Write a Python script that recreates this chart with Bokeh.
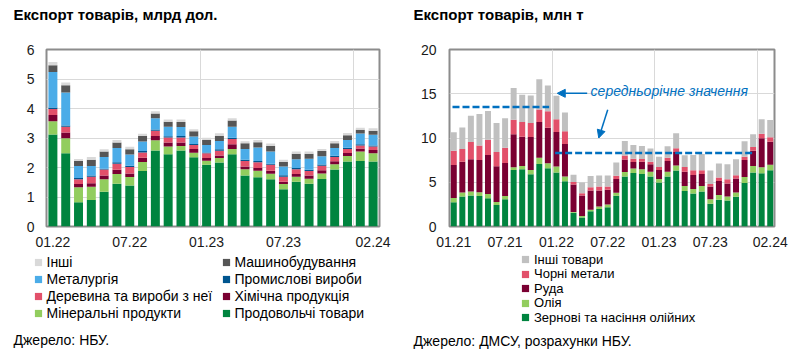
import numpy as np
from bokeh.plotting import figure
from bokeh.layouts import row, column
from bokeh.models import (ColumnDataSource, FixedTicker, Legend, LegendItem, Label,
                          Arrow, NormalHead, Range1d)
from bokeh.embed import file_html
from bokeh.resources import INLINE

FONT = "Liberation Sans"
TXT = "#1a1a1a"
GRID = "#D9D9D9"
FRAME = "#8c8c8c"
BLUE = "#0070C0"

# ---------------- Left chart: export of goods, bn USD ----------------
usd_months = ["01.22", "02.22", "03.22", "04.22", "05.22", "06.22", "07.22", "08.22",
              "09.22", "10.22", "11.22", "12.22", "01.23", "02.23", "03.23", "04.23",
              "05.23", "06.23", "07.23", "08.23", "09.23", "10.23", "11.23", "12.23",
              "01.24", "02.24"]
usd_tick_labels = ["01.22", "07.22", "01.23", "07.23", "02.24"]

food = [3.12, 2.48, 0.82, 0.90, 1.18, 1.45, 1.39, 1.88, 2.58, 2.45, 2.58, 2.35, 2.09,
        2.17, 2.45, 1.73, 1.67, 1.60, 1.26, 1.52, 1.45, 1.61, 1.93, 2.20, 2.22, 2.20]
mineral = [0.45, 0.51, 0.51, 0.45, 0.42, 0.33, 0.29, 0.31, 0.34, 0.26, 0.15, 0.15, 0.14,
           0.15, 0.18, 0.21, 0.22, 0.19, 0.18, 0.17, 0.17, 0.19, 0.18, 0.19, 0.32, 0.28]
chemical = [0.21, 0.20, 0.11, 0.12, 0.13, 0.14, 0.12, 0.14, 0.15, 0.14, 0.12, 0.13, 0.09,
            0.09, 0.16, 0.09, 0.09, 0.10, 0.08, 0.09, 0.11, 0.11, 0.10, 0.10, 0.10, 0.11]
wood = [0.20, 0.19, 0.16, 0.22, 0.20, 0.21, 0.22, 0.18, 0.18, 0.17, 0.17, 0.13, 0.16,
        0.16, 0.18, 0.19, 0.20, 0.20, 0.17, 0.16, 0.15, 0.15, 0.15, 0.14, 0.11, 0.12]
industrial = [0.05, 0.04, 0.04, 0.04, 0.03, 0.05, 0.04, 0.05, 0.04, 0.04, 0.05, 0.04, 0.03,
              0.05, 0.04, 0.04, 0.04, 0.04, 0.05, 0.04, 0.04, 0.04, 0.04, 0.04, 0.04, 0.04]
metallurgy = [1.21, 1.12, 0.41, 0.32, 0.40, 0.48, 0.38, 0.32, 0.38, 0.32, 0.30, 0.25, 0.25,
              0.28, 0.37, 0.37, 0.46, 0.41, 0.29, 0.30, 0.38, 0.28, 0.26, 0.26, 0.36, 0.36]
machinery = [0.23, 0.25, 0.17, 0.21, 0.18, 0.19, 0.18, 0.19, 0.16, 0.17, 0.17, 0.18, 0.17,
             0.18, 0.21, 0.19, 0.18, 0.19, 0.16, 0.19, 0.17, 0.18, 0.16, 0.16, 0.13, 0.14]
other_usd = [0.11, 0.09, 0.07, 0.10, 0.08, 0.08, 0.08, 0.07, 0.08, 0.08, 0.09, 0.07, 0.08,
             0.08, 0.08, 0.07, 0.07, 0.08, 0.07, 0.07, 0.07, 0.07, 0.08, 0.08, 0.07, 0.08]

usd_names = ["Продовольчі товари", "Мінеральні продукти", "Хімічна продукція",
             "Деревина та вироби з неї", "Промислові вироби", "Металургія",
             "Машинобудування", "Інші"]
usd_colors = ["#00843F", "#92CD5E", "#7A0032", "#E2506A", "#00558F", "#4BACE8",
              "#565656", "#D9D9D9"]

# ---------------- Right chart: export of goods, mn t ----------------
t_months = ["01.21", "02.21", "03.21", "04.21", "05.21", "06.21", "07.21", "08.21",
            "09.21", "10.21", "11.21", "12.21", "01.22", "02.22", "03.22", "04.22",
            "05.22", "06.22", "07.22", "08.22", "09.22", "10.22", "11.22", "12.22",
            "01.23", "02.23", "03.23", "04.23", "05.23", "06.23", "07.23", "08.23",
            "09.23", "10.23", "11.23", "12.23", "01.24", "02.24"]
t_tick_labels = ["01.21", "07.21", "01.22", "07.22", "01.23", "07.23", "02.24"]

grain = [2.74, 3.38, 3.50, 3.46, 3.20, 2.44, 3.08, 6.39, 6.47, 5.90, 7.07, 6.58, 6.09,
         5.11, 1.54, 1.02, 1.73, 1.99, 2.18, 3.48, 5.64, 6.05, 5.94, 5.64, 4.96, 5.64,
         6.32, 4.02, 3.72, 3.95, 2.56, 3.01, 2.93, 3.35, 4.92, 6.09, 6.02, 6.35]
oil = [0.49, 0.45, 0.45, 0.41, 0.48, 0.34, 0.38, 0.30, 0.37, 0.49, 0.71, 0.56, 0.68,
       0.53, 0.11, 0.18, 0.15, 0.27, 0.30, 0.34, 0.53, 0.50, 0.53, 0.56, 0.42, 0.56,
       0.56, 0.57, 0.53, 0.64, 0.52, 0.56, 0.45, 0.48, 0.68, 0.75, 0.67, 0.64]
ore = [3.72, 3.50, 3.64, 3.65, 4.40, 4.02, 3.72, 3.72, 3.31, 3.72, 4.02, 4.03, 3.91,
       3.68, 3.09, 2.30, 2.18, 1.80, 1.66, 1.54, 1.39, 0.75, 0.86, 0.83, 1.01, 1.21,
       1.54, 1.61, 1.58, 1.35, 1.43, 1.58, 1.47, 1.58, 1.92, 1.73, 3.27, 2.60]
ferrous = [1.62, 1.43, 1.96, 1.62, 1.73, 1.62, 1.73, 1.66, 1.65, 1.58, 1.43, 1.84, 1.43,
           1.43, 0.30, 0.26, 0.38, 0.45, 0.37, 0.38, 0.47, 0.35, 0.30, 0.30, 0.34, 0.37,
           0.41, 0.53, 0.52, 0.41, 0.30, 0.38, 0.49, 0.38, 0.37, 0.41, 0.53, 0.49]
other_t = [2.07, 2.44, 2.97, 3.57, 3.24, 3.27, 3.31, 3.57, 3.09, 3.12, 3.42, 2.93, 2.66,
           2.14, 0.82, 1.20, 1.27, 1.24, 1.24, 1.50, 1.62, 1.55, 1.47, 1.47, 1.16, 1.28,
           1.70, 1.32, 1.73, 1.85, 1.51, 1.58, 1.69, 1.80, 1.73, 1.43, 1.62, 1.95]

t_names = ["Зернові та насіння олійних", "Олія", "Руда", "Чорні метали", "Інші товари"]
t_colors = ["#00843F", "#92CD5E", "#7A0032", "#E2506A", "#C0C0C0"]

# periods over which the annual average is shown
avg_periods = [("01.21", "12.21"), ("01.22", "12.23")]
avg_note = "середньорічне значення"

HEAD_H = 30
CHART_H = 222
FOOT_H = 363 - HEAD_H - CHART_H
GLYPH = 18


def blank_figure(height):
    f = figure(width=400, height=height, x_range=Range1d(0, 400), y_range=Range1d(0, height),
               output_backend="svg", toolbar_location=None, min_border=0,
               x_axis_type=None, y_axis_type=None)
    f.outline_line_color = None
    f.grid.visible = False
    return f


def head_figure(title):
    h = blank_figure(HEAD_H)
    h.add_layout(Label(x=13, y=HEAD_H - 14, x_units="screen", y_units="screen", text=title,
                       text_font=FONT, text_font_size="15px", text_font_style="bold",
                       text_color="#000000", text_baseline="middle"))
    return h


def base_figure(n, ymax, step, border_left, border_right):
    p = figure(width=400, height=CHART_H, x_range=Range1d(-0.5, n - 0.5),
               y_range=Range1d(0, ymax), output_backend="svg", toolbar_location=None,
               min_border_left=border_left, min_border_right=border_right,
               min_border_top=19, min_border_bottom=CHART_H - 19 - 177)
    p.outline_line_color = FRAME
    p.outline_line_width = 2
    p.background_fill_color = "white"
    p.border_fill_color = "white"
    p.yaxis.ticker = FixedTicker(ticks=list(np.arange(0, ymax + step / 2, step)))
    for ax in (p.xaxis[0], p.yaxis[0]):
        ax.axis_line_color = None
        ax.major_tick_line_color = None
        ax.minor_tick_line_color = None
        ax.major_tick_out = 0
        ax.major_tick_in = 0
        ax.major_label_text_font = FONT
        ax.major_label_text_font_size = "14px"
        ax.major_label_text_color = TXT
    p.xaxis.major_label_standoff = 10
    p.ygrid.grid_line_color = GRID
    p.xgrid.grid_line_color = GRID
    return p


def foot_figure(names, colors, entries, font_size, source, dy_source):
    """Legend and source note under a chart; swatches come from size-0 proxy markers."""
    f = blank_figure(FOOT_H)
    proxies = {n: f.scatter(x=[0], y=[0], marker="square", size=0, fill_color=c,
                            line_color=None)
               for n, c in zip(names, colors)}
    for name, (lx, cy) in entries:
        lg = Legend(items=[LegendItem(label=name, renderers=[proxies[name]])],
                    location=(lx, FOOT_H - cy - GLYPH / 2))
        lg.label_text_font = FONT
        lg.label_text_font_size = font_size
        lg.label_text_color = "#000000"
        lg.glyph_width = GLYPH
        lg.glyph_height = GLYPH
        lg.label_height = GLYPH
        lg.label_standoff = -2
        lg.padding = 0
        lg.margin = 0
        lg.border_line_color = None
        lg.background_fill_alpha = 0
        f.add_layout(lg)
    f.add_layout(Label(x=13, y=FOOT_H - dy_source, x_units="screen", y_units="screen",
                       text=source, text_font=FONT, text_font_size="14px",
                       text_color="#000000", text_baseline="middle"))
    return f


# ---- left
xu = list(range(len(usd_months)))
src_u = ColumnDataSource(dict(x=xu, food=food, mineral=mineral, chemical=chemical, wood=wood,
                              industrial=industrial, metallurgy=metallurgy,
                              machinery=machinery, other=other_usd))
keys_u = ["food", "mineral", "chemical", "wood", "industrial", "metallurgy", "machinery",
          "other"]
p1 = base_figure(len(usd_months), 6, 1, 46, 21)
p1.yaxis.major_label_standoff = 12
p1.vbar_stack(keys_u, x="x", width=0.7, color=usd_colors, line_color=None, source=src_u)
p1.xaxis.ticker = FixedTicker(ticks=[usd_months.index(t) for t in usd_tick_labels])
p1.xaxis.major_label_overrides = {usd_months.index(t): t for t in usd_tick_labels}
p1.xgrid.ticker = FixedTicker(ticks=[i - 0.5 for i, m in enumerate(usd_months)
                                     if m.startswith("01.") and i > 0])
col1 = ["Інші", "Металургія", "Деревина та вироби з неї", "Мінеральні продукти"]
col2 = ["Машинобудування", "Промислові вироби", "Хімічна продукція", "Продовольчі товари"]
entries_u = ([(n, (28.5, 10 + 17 * i)) for i, n in enumerate(col1)] +
             [(n, (216.5, 10 + 17 * i)) for i, n in enumerate(col2)])
f1 = foot_figure(usd_names, usd_colors, entries_u, "14px", "Джерело: НБУ.", 87)

# ---- right
xt = list(range(len(t_months)))
src_t = ColumnDataSource(dict(x=xt, grain=grain, oil=oil, ore=ore, ferrous=ferrous,
                              other=other_t))
keys_t = ["grain", "oil", "ore", "ferrous", "other"]
p2 = base_figure(len(t_months), 20, 5, 49, 26)
p2.yaxis.major_label_standoff = 13
p2.vbar_stack(keys_t, x="x", width=0.7, color=t_colors, line_color=None, source=src_t)
p2.xaxis.ticker = FixedTicker(ticks=[t_months.index(t) for t in t_tick_labels])
p2.xaxis.major_label_overrides = {t_months.index(t): t for t in t_tick_labels}
p2.xgrid.ticker = FixedTicker(ticks=[i - 0.5 for i, m in enumerate(t_months)
                                     if m.startswith("01.") and i > 0])

totals = np.array(grain) + np.array(oil) + np.array(ore) + np.array(ferrous) + np.array(other_t)
x0s, x1s, avgs = [], [], []
for a, b in avg_periods:
    i0, i1 = t_months.index(a), t_months.index(b)
    x0s.append(i0 - 0.15)
    x1s.append(i1 + 0.15)
    avgs.append(float(totals[i0:i1 + 1].mean()))
p2.segment(x0=x0s, y0=avgs, x1=x1s, y1=avgs, line_color=BLUE, line_width=2.5,
           line_dash="7 3")
p2.add_layout(Label(x=16.0, y=15.3, text=avg_note, text_font=FONT, text_font_size="14px",
                    text_font_style="italic", text_color=BLUE, text_baseline="middle"))
p2.add_layout(Arrow(x_start=15.6, y_start=15.05, x_end=12.1, y_end=15.05,
                    line_color=BLUE, line_width=1.5,
                    end=NormalHead(size=8, fill_color=BLUE, line_color=BLUE)))
p2.add_layout(Arrow(x_start=18.0, y_start=13.2, x_end=16.95, y_end=10.0,
                    line_color=BLUE, line_width=1.5,
                    end=NormalHead(size=8, fill_color=BLUE, line_color=BLUE)))

order_t = ["Інші товари", "Чорні метали", "Руда", "Олія", "Зернові та насіння олійних"]
entries_t = [(n, (116, 7 + 14.5 * i)) for i, n in enumerate(order_t)]
f2 = foot_figure(t_names, t_colors, entries_t, "13px", "Джерело: ДМСУ, розрахунки НБУ.", 88)

h1 = head_figure("Експорт товарів, млрд дол.")
h2 = head_figure("Експорт товарів, млн т")

layout = column(row(h1, h2, spacing=0), row(p1, p2, spacing=0), row(f1, f2, spacing=0),
                spacing=0)
open("out.html", "w").write(file_html(layout, INLINE))
